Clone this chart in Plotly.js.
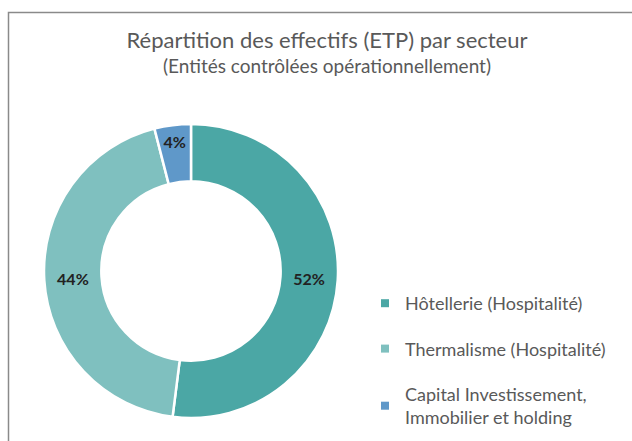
<!DOCTYPE html>
<html>
<head>
<meta charset="utf-8">
<script src="https://cdn.plot.ly/plotly-3.0.1.min.js"></script>
<style>html,body{margin:0;padding:0;background:#fff;}#chart{width:632px;height:441px;}</style>
</head>
<body>
<div id="chart"></div>
<script>
const categories = ["Hôtellerie (Hospitalité)", "Thermalisme (Hospitalité)", "Capital Investissement,<br>Immobilier et holding"];
const values = [52, 44, 4];
const colors = ["#4BA7A5", "#7FC0BF", "#5F98C9"];
const titleText = "Répartition des effectifs (ETP) par secteur";
const subtitleText = "(Entités contrôlées opérationnellement)";

const FONT = "Lato, 'Open Sans', sans-serif";

const pie = {
  type: "pie",
  labels: categories,
  values: values,
  sort: false,
  direction: "clockwise",
  rotation: 0,
  hole: 0.61,
  marker: {colors: colors, line: {color: "#ffffff", width: 2.5}},
  texttemplate: "%{percent:.0%}",
  textposition: "inside",
  insidetextorientation: "horizontal",
  textfont: {family: FONT, size: 16, color: "#222222", weight: "bold"},
  showlegend: false,
  hoverinfo: "label+percent",
  domain: {x: [44/632, 338/632], y: [1 - 418/441, 1 - 124/441]}
};

const legendTraces = categories.map((c, i) => ({
  type: "scatter",
  mode: "markers",
  x: [null], y: [null],
  name: c,
  legendgroup: "g" + i,
  marker: {symbol: "square", size: 8, color: colors[i]},
  showlegend: true,
  hoverinfo: "skip"
}));

const layout = {
  width: 632, height: 441,
  margin: {l: 0, r: 0, t: 0, b: 0},
  paper_bgcolor: "#ffffff",
  plot_bgcolor: "rgba(0,0,0,0)",
  xaxis: {visible: false, domain: [0.9, 1]},
  yaxis: {visible: false, domain: [0.9, 1]},
  title: {
    text: titleText,
    font: {family: FONT, size: 22, color: "#595959"},
    x: 327/632, xanchor: "center",
    y: 1 - 40/441, yanchor: "middle", yref: "container"
  },
  annotations: [{
    text: subtitleText, showarrow: false,
    xref: "paper", yref: "paper",
    x: 327/632, xanchor: "center",
    y: 1 - 66/441, yanchor: "middle",
    font: {family: FONT, size: 19, color: "#595959"}
  }],
  showlegend: true,
  legend: {
    x: 365/632, xanchor: "left",
    y: 1 - 285/441, yanchor: "top",
    font: {family: FONT, size: 18, color: "#595959"},
    tracegroupgap: 19,
    traceorder: "grouped",
    bgcolor: "rgba(0,0,0,0)"
  },
  shapes: [{
    type: "rect", xref: "paper", yref: "paper",
    x0: 8.5/632, x1: 1.2, y0: -0.2, y1: 1 - 12.5/441,
    line: {color: "#8a8a8a", width: 1.5}, fillcolor: "rgba(0,0,0,0)", layer: "below"
  }]
};

Plotly.newPlot("chart", [pie].concat(legendTraces), layout, {displayModeBar: false, staticPlot: true});
</script>
</body>
</html>
